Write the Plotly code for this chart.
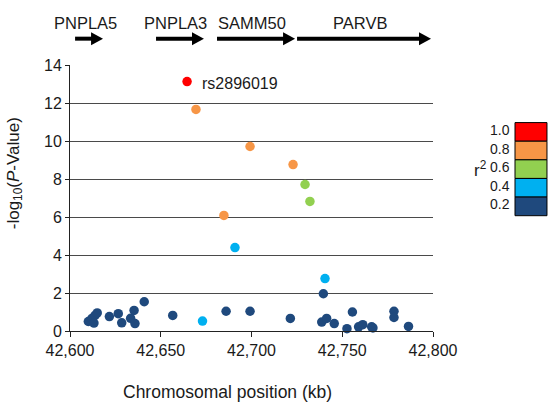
import plotly.graph_objects as go

# ---- data ----
pos_kb = [42610.1, 42612.1, 42613.8, 42615.0, 42613.2, 42621.7, 42626.6, 42628.5, 42633.4,
          42635.3, 42635.8, 42640.9, 42656.6, 42686.0, 42699.2, 42721.4, 42739.6, 42738.7,
          42741.4, 42745.6, 42752.6, 42755.6, 42759.0, 42761.3, 42766.2, 42766.9, 42778.5,
          42778.5, 42786.5,
          42673.0, 42690.9, 42740.5,
          42729.5, 42732.2,
          42669.4, 42699.2, 42722.9, 42684.8,
          42664.5]
logp = [0.50, 0.66, 0.82, 0.95, 0.42, 0.76, 0.91, 0.43, 0.67,
        1.08, 0.39, 1.54, 0.82, 1.04, 1.04, 0.66, 1.96, 0.47,
        0.66, 0.39, 0.12, 1.00, 0.22, 0.33, 0.22, 0.16, 1.04,
        0.71, 0.24,
        0.52, 4.39, 2.76,
        7.71, 6.82,
        11.66, 9.71, 8.76, 6.08,
        13.13]
r2 = [0.1] * 29 + [0.3] * 3 + [0.5] * 2 + [0.7] * 4 + [1.0]

lead_snp = "rs2896019"

genes = ["PNPLA5", "PNPLA3", "SAMM50", "PARVB"]
gene_start = [42602.8, 42647.4, 42681.0, 42725.1]
gene_end = [42618.2, 42673.8, 42724.0, 42798.9]

legend_labels = ["1.0", "0.8", "0.6", "0.4", "0.2"]
legend_colors = ["#FF0000", "#F79646", "#92D050", "#00B0F0", "#1F497D"]

x_ticks = [42600, 42650, 42700, 42750, 42800]
y_ticks = [0, 2, 4, 6, 8, 10, 12, 14]


def r2_color(v):
    if v > 0.8:
        return legend_colors[0]
    if v > 0.6:
        return legend_colors[1]
    if v > 0.4:
        return legend_colors[2]
    if v > 0.2:
        return legend_colors[3]
    return legend_colors[4]


FONT = "Liberation Sans, Arial, sans-serif"
TXT = "#1a1a1a"

fig = go.Figure()
fig.add_trace(go.Scatter(
    x=pos_kb, y=logp, mode="markers",
    marker=dict(size=9.5, color=[r2_color(v) for v in r2], line=dict(width=0)),
    showlegend=False, cliponaxis=False, hoverinfo="x+y"))

# lead SNP label
lead_i = logp.index(max(logp))
fig.add_annotation(x=pos_kb[lead_i], y=logp[lead_i], text=lead_snp, showarrow=False,
                   xanchor="left", yanchor="middle", xshift=13, yshift=-2,
                   font=dict(family=FONT, size=16, color=TXT))

# gene arrows
arrow_y = 1.099
head_len = 6.6
head_h = 0.0245
for g, s, e in zip(genes, gene_start, gene_end):
    fig.add_shape(type="line", xref="x", yref="paper", x0=s, x1=e - head_len + 0.5,
                  y0=arrow_y, y1=arrow_y, line=dict(color="black", width=4))
    fig.add_shape(type="path", xref="x", yref="paper",
                  path=f"M {e - head_len},{arrow_y - head_h} L {e},{arrow_y} L {e - head_len},{arrow_y + head_h} Z",
                  fillcolor="black", line=dict(color="black", width=0))
    fig.add_annotation(x=(s + e) / 2, y=1.158, xref="x", yref="paper", text=g,
                       showarrow=False, xshift=-4, yanchor="middle",
                       font=dict(family=FONT, size=16.5, color=TXT))

# r2 legend
lx0, lx1 = 1.2259, 1.314
ltop = 0.7835
lstep = 0.0700
for i, (lab, col) in enumerate(zip(legend_labels, legend_colors)):
    y1 = ltop - i * lstep
    y0 = y1 - lstep
    fig.add_shape(type="rect", xref="paper", yref="paper", x0=lx0, x1=lx1, y0=y0, y1=y1,
                  fillcolor=col, line=dict(color="black", width=1))
    fig.add_annotation(x=1.2168, y=(y0 + y1) / 2, xref="paper", yref="paper", text=lab,
                       showarrow=False, xanchor="right", yanchor="middle", yshift=2,
                       font=dict(family=FONT, size=14, color=TXT))
fig.add_annotation(x=1.131, y=ltop - 2.5 * lstep, xref="paper", yref="paper",
                   text="r<sup>2</sup>", showarrow=False, xanchor="center", yanchor="middle",
                   font=dict(family=FONT, size=17, color=TXT))

# y-axis title
fig.add_annotation(x=0, y=0.593, xref="paper", yref="paper", xshift=-55,
                   text="-log<sub>10</sub>(<i>P</i>-Value)", textangle=-90, showarrow=False,
                   xanchor="center", yanchor="middle",
                   font=dict(family=FONT, size=17, color=TXT))

# x-axis title
fig.add_annotation(x=0.435, y=-0.228, xref="paper", yref="paper",
                   text="Chromosomal position (kb)", showarrow=False,
                   xanchor="center", yanchor="middle",
                   font=dict(family=FONT, size=17.5, color=TXT))

fig.update_layout(
    width=560, height=409,
    margin=dict(l=70, r=127, t=65, b=78, autoexpand=False),
    paper_bgcolor="white", plot_bgcolor="white",
    font=dict(family=FONT, size=16, color=TXT),
    xaxis=dict(range=[42600, 42800], tickvals=x_ticks, tickformat=",d",
               showgrid=False, zeroline=False, showline=True, linecolor="#222", linewidth=1,
               ticks="outside", ticklen=5, tickcolor="#222",
               tickfont=dict(family=FONT, size=16, color=TXT)),
    yaxis=dict(range=[0, 14], tickvals=y_ticks, showgrid=True, gridcolor="#4a4a4a", gridwidth=1,
               zeroline=False, showline=True, linecolor="#222", linewidth=1,
               ticks="outside", ticklen=4, tickcolor="#222",
               tickfont=dict(family=FONT, size=16, color=TXT)),
)

fig.write_html("out.html")
